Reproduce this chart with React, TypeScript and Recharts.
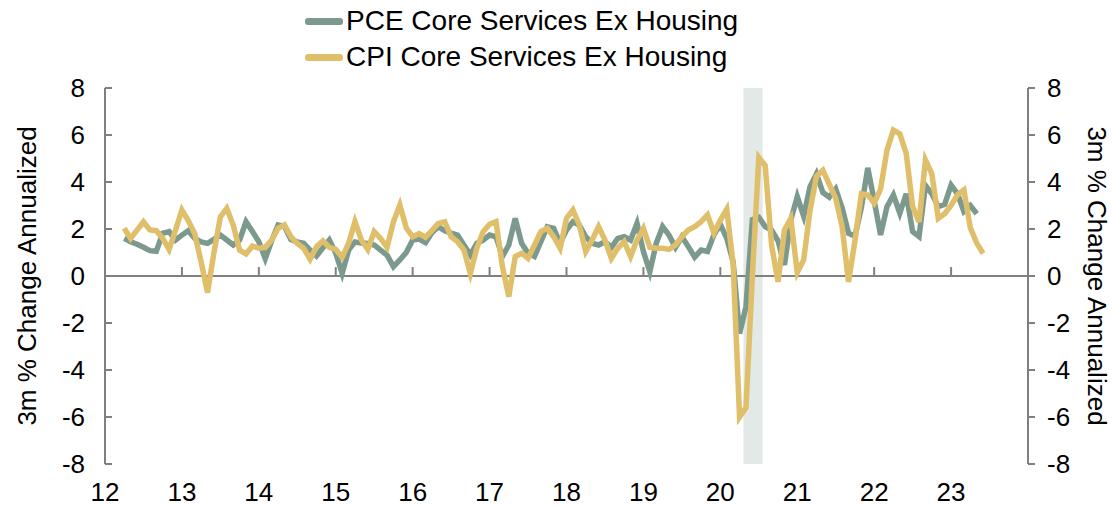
import { LineChart, Line, XAxis, YAxis, ReferenceLine, ReferenceArea, Legend } from "recharts"

const FONT = "'Liberation Sans', Arial, sans-serif"
const AXIS_GREY = "#808080"
const PCE_COLOR = "#7b9a8d"
const CPI_COLOR = "#e0bf6b"

// monthly, first point Apr 2012 (3 months after Jan 2012)
const START_YEAR = 12
const START_MONTH_OFFSET = 3

const pceCoreServicesExHousing = [
    1.6, 1.46, 1.35, 1.22, 1.08, 1.05, 1.82, 1.89, 1.53, 1.74, 1.93, 1.6, 1.45, 1.39, 1.56, 1.74, 1.53, 1.32, 1.53, 2.31, 1.89, 1.46,
    0.74, 1.5, 2.17, 2.1, 1.55, 1.45, 1.39, 1.1, 0.85, 1.2, 1.53, 0.97, 0.11, 1.1, 1.45, 1.4, 1.38, 1.32, 1.1, 0.89, 0.4, 0.68, 1.0,
    1.53, 1.57, 1.42, 1.84, 2.1, 1.92, 1.82, 1.74, 1.32, 0.89, 1.39, 1.53, 1.74, 1.67, 0.83, 1.32, 2.45, 1.39, 0.97, 0.83, 1.46, 2.1,
    2.03, 1.39, 1.96, 2.31, 2.17, 1.67, 1.39, 1.32, 1.46, 1.22, 1.6, 1.67, 1.53, 2.24, 1.04, 0.18, 1.39, 2.1, 1.74, 1.22, 1.67, 1.25, 0.8,
    1.1, 1.04, 1.75, 2.2, 1.6, 0.6, -2.45, -1.3, 2.4, 2.5, 2.1, 1.95, 1.5, 0.47, 2.38, 3.38, 2.55, 3.8, 4.35, 3.55,
    3.35, 3.7, 2.9, 1.82, 1.7, 2.9, 4.6, 3.2, 1.75, 2.95, 3.45, 2.67, 3.5, 1.89, 1.68, 3.85, 3.5, 2.95, 3.05, 3.87,
    3.5, 2.75, 3.0, 2.65,
]

const cpiCoreServicesExHousing = [
    2.03, 1.6, 1.95, 2.31, 1.96, 1.93, 1.6, 1.13, 1.95, 2.81, 2.35, 1.8, 0.6, -0.71, 1.0, 2.52, 2.88, 2.17, 1.1, 0.94, 1.28, 1.18,
    1.22, 1.53, 2.03, 2.17, 1.67, 1.39, 1.18, 0.71, 1.25, 1.5, 1.22, 1.13, 0.8, 1.39, 2.31, 1.53, 1.13, 1.89, 1.6, 1.22, 2.31, 3.02, 2.05,
    1.67, 1.8, 1.65, 1.93, 2.24, 2.31, 1.67, 1.46, 1.11, 0.11, 1.18, 1.89, 2.2, 2.31, 0.4, -0.88, 0.83, 0.97, 0.75, 1.32, 1.89, 2.03,
    1.67, 1.18, 2.45, 2.81, 2.17, 1.04, 1.53, 2.1, 1.53, 0.75, 1.18, 1.46, 0.83, 1.53, 2.03, 1.22, 1.18, 1.18, 1.13, 1.32, 1.67, 1.96, 2.1,
    2.31, 2.6, 1.82, 2.38, 2.84, 0.5, -6.0, -5.6, 0.0, 5.05, 4.7, 1.3, -0.25, 1.96, 2.45, 0.15, 0.68, 2.8, 4.25, 4.5,
    3.9, 3.3, 2.1, -0.25, 1.5, 3.5, 3.45, 3.1, 3.7, 5.36, 6.21, 6.05, 5.22, 2.95, 2.3, 4.94, 4.35, 2.45, 2.65, 3.0,
    3.45, 3.66, 2.05, 1.4, 0.96,
]

const yearTicks = [12, 13, 14, 15, 16, 17, 18, 19, 20, 21, 22, 23]
const valueTicks = [-8, -6, -4, -2, 0, 2, 4, 6, 8]
const recessionStart = 20.3
const recessionEnd = 20.55

const seriesNames = {
    pce: "PCE Core Services Ex Housing",
    cpi: "CPI Core Services Ex Housing",
}

const data = cpiCoreServicesExHousing.map((cpi, i) => ({
    t: START_YEAR + (START_MONTH_OFFSET + i) / 12,
    cpi,
    pce: i < pceCoreServicesExHousing.length ? pceCoreServicesExHousing[i] : null,
}))

const tickStyle = { fill: "#000", fontSize: 26, fontFamily: FONT }

function LegendBox(props: any) {
    const items = (props.payload || []).slice().sort((a: any, b: any) => (a.dataKey === "pce" ? -1 : 1) - (b.dataKey === "pce" ? -1 : 1))
    return (
        <div style={{ paddingTop: 3 }}>
            {items.map((it: any) => (
                <div key={it.dataKey} style={{ display: "flex", alignItems: "center", height: 36 }}>
                    <div style={{ width: 38, height: 7, borderRadius: 3, background: it.color }} />
                    <span style={{ marginLeft: 3, fontSize: 28, fontFamily: FONT, color: "#000", whiteSpace: "nowrap" }}>{it.value}</span>
                </div>
            ))}
        </div>
    )
}

export default function App() {
    return (
        <div style={{ position: "absolute", left: 0, top: 0 }}>
            <LineChart width={1113} height={506} data={data} margin={{ top: 88, right: 0, bottom: 0, left: 0 }}>
                <XAxis
                    dataKey="t"
                    type="number"
                    domain={[12, 24]}
                    ticks={yearTicks}
                    interval={0}
                    allowDataOverflow
                    height={42}
                    axisLine={false}
                    tickLine={false}
                    tickSize={0}
                    tickMargin={19}
                    tick={tickStyle}
                />
                <YAxis
                    yAxisId="left"
                    orientation="left"
                    type="number"
                    domain={[-8, 8]}
                    ticks={valueTicks}
                    interval={0}
                    allowDataOverflow
                    width={105}
                    axisLine={{ stroke: AXIS_GREY, strokeWidth: 2 }}
                    tickLine={{ stroke: AXIS_GREY, strokeWidth: 2 }}
                    tickSize={-7}
                    tickMargin={27}
                    tick={tickStyle}
                    label={{ value: "3m % Change Annualized", angle: -90, position: "insideLeft", offset: 27, style: { textAnchor: "middle", fontSize: 26, fontFamily: FONT, fill: "#000" } }}
                />
                <YAxis
                    yAxisId="right"
                    orientation="right"
                    type="number"
                    domain={[-8, 8]}
                    ticks={valueTicks}
                    interval={0}
                    allowDataOverflow
                    width={85}
                    axisLine={{ stroke: AXIS_GREY, strokeWidth: 2 }}
                    tickLine={{ stroke: AXIS_GREY, strokeWidth: 2 }}
                    tickSize={7}
                    tickMargin={12}
                    tick={tickStyle}
                    label={{ value: "3m % Change Annualized", angle: 90, position: "insideRight", offset: 16, style: { textAnchor: "middle", fontSize: 26, fontFamily: FONT, fill: "#000" } }}
                />
                <ReferenceArea yAxisId="left" x1={recessionStart} x2={recessionEnd} fill="#e2e9e6" fillOpacity={1} stroke="none" />
                <ReferenceLine yAxisId="left" y={0} stroke={AXIS_GREY} strokeWidth={2} />
                {yearTicks.slice(1).map(yr => (
                    <ReferenceLine
                        key={yr}
                        yAxisId="left"
                        segment={[{ x: yr, y: 0 }, { x: yr, y: 0.38 }]}
                        stroke={AXIS_GREY}
                        strokeWidth={2}
                    />
                ))}
                <Legend
                    layout="horizontal"
                    verticalAlign="middle"
                    align="center"
                    content={<LegendBox />}
                    wrapperStyle={{ top: 0, left: 305, width: 560, height: 80 }}
                />
                <Line yAxisId="left" type="linear" dataKey="pce" name={seriesNames.pce} stroke={PCE_COLOR} strokeWidth={5.5} dot={false} isAnimationActive={false} />
                <Line yAxisId="left" type="linear" dataKey="cpi" name={seriesNames.cpi} stroke={CPI_COLOR} strokeWidth={5.5} dot={false} isAnimationActive={false} />
            </LineChart>
        </div>
    )
}
